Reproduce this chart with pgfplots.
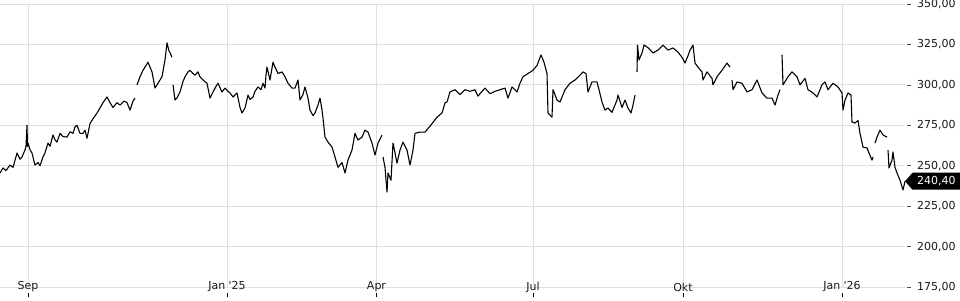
\documentclass[border=0pt]{standalone}
\usepackage{pgfplots}
\pgfplotsset{compat=1.18}
\usepackage{fontspec}
\setmainfont{DejaVu Sans}[Ligatures=TeXOff]
\begin{document}
\begin{tikzpicture}
\begin{axis}[
  scale only axis, width=905pt, height=283pt,
  xmin=0, xmax=905, ymin=175, ymax=350,
  axis line style={draw=none},
  xtick={28,227,376.5,533,683,842},
  xticklabels={Sep,{Jan '25},Apr,Jul,Okt,{Jan '26}},
  ytick={175,200,225,250,275,300,325,350},
  grid=major, grid style={color=gray!25, line width=0.8pt},
  tick align=inside, major tick length=4pt,
  xtick pos=bottom, ytick pos=right, yticklabel pos=right,
  xtick style={black, line width=0.7pt, yshift=-10pt},
  ytick style={black!70, line width=0.7pt, xshift=6pt},
  ticklabel style={font=\fontsize{11}{13}\selectfont, text=black!90},
  xticklabel style={anchor=center, inner sep=0pt},
  yticklabel style={anchor=west, inner sep=0pt, xshift=12pt},
  /pgf/number format/.cd, fixed, fixed zerofill, precision=2, use comma, 1000 sep={}, assume math mode=true,
  /pgfplots/.cd,
  unbounded coords=jump,
]
\addplot[black, line width=1.1pt, line join=round] table {
x y
0 245.5
3 248.6
6 247
10 250.4
13 249
17 257.8
20 254
22 255.4
25 259.7
26 262
27 275
27.5 262
28 264
30 260
32 257.8
35 250.4
38 252
40 250
43 255.4
45 258
48 264
50 262
53 269
55 266
57 264.6
60 270
63 268
67 267.7
70 271
73 270
75 274
77 275
80 270
83 270
85 272
87 267
90 276
93 279
97 282.6
100 285.7
103 289
107 292.5
110 289
113 286
117 289
120 287.5
124 290
127 289
130 284.4
133 290
135 291.8
136 nan
137 300
140 305
143 309
145 311
148 314
150 311
152 308
155 298
158 301
162 305
165 315.4
167 326
169 321
170 320
172 317
172.5 nan
173 300
175 290.6
177 292
180 295.6
183 302
185 305
188 308
190 309
193 307
195 306
198 308
200 305
203 303
207 301
210 291.8
213 295.6
216 299
218 301
222 295.6
225 298
228 296
230 295
233 292.5
237 295
240 286
242 282.6
245 285.7
248 293.7
250 291
253 292.5
255 296
258 298.7
261 297
263 301
265 298
266 306
267 311
270 303
273 314
275 311
278 307
282 308
285 305
288 301
292 298
295 298
298 303
300 290.6
303 294
305 298.7
308 291.8
310 284.4
313 281
315 282.6
318 287.5
320 291.8
322 284.4
323 279.5
325 267.7
328 264.6
332 261.5
335 255.4
338 249
342 252
345 245.5
348 253.5
352 259.7
355 270
358 265.9
362 267.7
365 272
368 270.8
372 264
375 256.6
378 264
382 269
382.5 nan
383 255.4
385 249
387 233.7
388 245.5
391 241
393 264
395 258
397 251.6
400 259.7
403 264.6
407 259.7
410 250.4
413 259.7
415 270
420 270.8
425 270.8
428 273
432 276
437 280
442 282.6
445 288.8
447 289.4
450 295.6
455 297
460 294
465 297
470 296
475 297
478 293
482 296
485 298
490 294.5
495 296
500 297
505 298
508 291.8
512 298.7
517 295.6
520 301
523 305
528 307
533 309
537 312
541 318.5
544 314
547 307
548 282.6
552 280
553 297
557 290.6
560 289.4
565 297
570 301
575 303
580 306
583 308
586 307
588 295.6
592 301.8
597 301.8
599 297
602 289.4
605 284.4
608 285.7
612 283
617 290.6
618 293.7
622 286
625 290.6
628 285.7
631 282.6
633 287.5
635 293.7
636 nan
637 308
637.5 324.6
639 315.4
642 319.7
644 324.6
648 323
653 319.7
658 321.5
663 324.6
668 321.5
673 322.8
678 320.3
682 317
685 313.5
688 318
690 321.5
693 324.6
695 313.5
698 311
702 308
703 303
707 308
712 304
713 300
717 305
722 309
727 313.5
730 311
731 nan
732 303
733 297
737 301.8
742 301
747 295.6
752 297
757 303
762 295
767 291.8
772 291.8
775 287.5
778 293.7
780 297
781 nan
782 318.5
783 300
788 305
792 308
797 305
800 300
805 304
808 297
813 295
817 292.5
822 300
825 301.8
828 297
833 301
838 298.7
842 295
843 284.4
845 290.6
848 295
851 293.7
852 277
855 276.4
858 278
860 270
863 261.5
867 261
869 257.8
872 253.5
873 255.4
874 nan
875 264
877 267.7
880 272
883 269
887 267.7
887.5 nan
888 259.7
889 248.6
892 253.5
893 258.5
895 249
897 245.5
900 241
903 235
905 240.4
};
\coordinate (last) at (axis cs:905,240.4);
\end{axis}
\fill[black] (last) -- ++(7.5pt,8.5pt) -- ++(47.5pt,0pt) -- ++(0pt,-17pt) -- ++(-47.5pt,0pt) -- cycle;
\node[white, anchor=west, inner sep=0pt, font=\fontsize{11}{13}\selectfont] at ([xshift=12pt]last) {240,40};
\pgfresetboundingbox
\useasboundingbox (0pt,-13pt) rectangle (960pt,287pt);
\end{tikzpicture}
\end{document}
